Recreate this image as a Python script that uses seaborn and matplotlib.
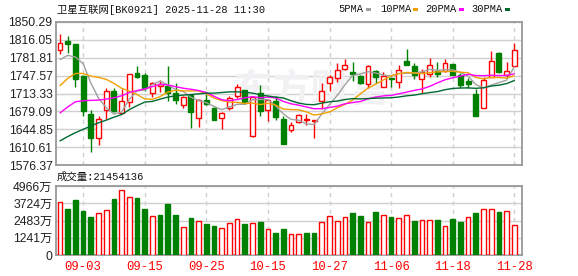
import numpy as np
import pandas as pd
import matplotlib
matplotlib.use("Agg")
import matplotlib.pyplot as plt
from matplotlib.patches import Rectangle
import seaborn as sns

# ---------------- data ----------------
dates = ["08-29", "09-01", "09-02", "09-03", "09-04", "09-05", "09-08", "09-09", "09-10", "09-11",
         "09-12", "09-15", "09-16", "09-17", "09-18", "09-19", "09-22", "09-23", "09-24", "09-25",
         "09-26", "09-29", "09-30", "10-09", "10-10", "10-13", "10-14", "10-15", "10-16", "10-17",
         "10-20", "10-21", "10-22", "10-23", "10-24", "10-27", "10-28", "10-29", "10-30", "10-31",
         "11-03", "11-04", "11-05", "11-06", "11-07", "11-10", "11-11", "11-12", "11-13", "11-14",
         "11-17", "11-18", "11-19", "11-20", "11-21", "11-24", "11-25", "11-26", "11-27", "11-28"]

opens = [1797.1, 1814.7, 1807.2, 1747.3, 1674.9, 1628.2, 1681.8, 1717.7, 1676.7, 1696.9,
         1753.0, 1748.6, 1715.2, 1727.5, 1727.8, 1715.2, 1691.2, 1711.4, 1666.0, 1700.1,
         1686.2, 1666.0, 1684.9, 1708.9, 1719.6, 1631.4, 1715.2, 1681.1, 1698.2, 1665.4,
         1642.7, 1658.5, 1663.5, 1660.4, 1698.2, 1732.8, 1742.3, 1761.2, 1754.2, 1746.7,
         1731.6, 1756.1, 1726.5, 1742.3, 1734.7, 1775.0, 1765.6, 1740.4, 1750.5, 1756.8,
         1756.8, 1770.6, 1747.9, 1737.2, 1712.7, 1685.6, 1744.1, 1790.1, 1747.9, 1766.9]
highs = [1827.3, 1824.2, 1808.0, 1748.0, 1681.1, 1669.8, 1723.4, 1723.4, 1721.5, 1750.5,
         1765.6, 1751.7, 1735.3, 1738.5, 1765.6, 1734.0, 1708.9, 1712.7, 1702.6, 1712.7,
         1687.5, 1677.4, 1707.6, 1730.9, 1720.2, 1708.9, 1729.0, 1702.6, 1708.9, 1671.1,
         1658.5, 1674.2, 1674.2, 1662.3, 1734.1, 1748.6, 1771.9, 1778.8, 1774.4, 1748.6,
         1767.5, 1758.0, 1753.6, 1744.1, 1767.5, 1797.7, 1771.9, 1761.2, 1782.0, 1773.1,
         1778.8, 1770.6, 1751.7, 1743.5, 1722.1, 1745.4, 1795.2, 1792.0, 1774.4, 1810.3]
lows = [1789.5, 1790.8, 1726.5, 1671.1, 1601.8, 1614.4, 1665.4, 1677.0, 1675.5, 1686.8,
        1742.3, 1718.3, 1706.3, 1717.1, 1698.2, 1693.8, 1685.6, 1647.1, 1649.6, 1691.9,
        1663.5, 1645.9, 1682.4, 1703.8, 1693.8, 1630.1, 1671.1, 1660.4, 1662.3, 1616.9,
        1639.6, 1657.2, 1653.4, 1628.9, 1683.7, 1718.3, 1736.0, 1758.0, 1737.9, 1731.0,
        1723.4, 1734.1, 1725.3, 1726.5, 1723.4, 1767.5, 1741.7, 1715.2, 1745.4, 1744.2,
        1753.6, 1748.6, 1723.4, 1723.4, 1669.8, 1685.6, 1744.1, 1751.7, 1745.4, 1766.9]
closes = [1810.3, 1807.8, 1741.7, 1679.3, 1628.2, 1664.8, 1717.7, 1679.3, 1699.4, 1749.8,
          1745.4, 1724.6, 1732.8, 1731.5, 1715.2, 1700.1, 1706.3, 1677.4, 1701.3, 1693.8,
          1663.5, 1676.1, 1703.8, 1725.2, 1695.0, 1706.3, 1679.3, 1701.3, 1667.9, 1616.9,
          1653.4, 1671.7, 1665.4, 1662.3, 1718.3, 1744.1, 1758.0, 1767.5, 1750.5, 1734.1,
          1765.6, 1745.4, 1746.7, 1741.7, 1759.3, 1767.5, 1748.6, 1754.9, 1767.5, 1750.5,
          1772.5, 1748.6, 1729.7, 1732.2, 1669.8, 1739.1, 1776.3, 1753.6, 1755.5, 1797.1]
# volume in 万 (10k shares)
volumes = [3794, 3305, 3966, 3158, 2717, 2987, 3207, 4039, 4676, 4162,
           4113, 3305, 2840, 2864, 3672, 2864, 2032, 2644, 2424, 2203,
           2056, 1958, 2326, 2619, 2203, 2277, 2375, 1885, 1616, 1836,
           1518, 1518, 1616, 1616, 2399, 2815, 2472, 2766, 3011, 2791,
           2399, 3060, 2913, 2717, 2693, 2913, 2424, 2546, 2546, 2497,
           2105, 2570, 2350, 2766, 3011, 3280, 3280, 3084, 3133, 2145]

# moving-average values before a full window is available
ma5_head = [1778.2, 1786.4, 1783.2, 1770.6]
ma10_head = [1728.4, 1742.3, 1751.7, 1751.7, 1746.7, 1744.2, 1740.4, 1732.8, 1723.4]
ma20_head = [1676.1, 1687.5, 1697.5, 1699.4, 1700.1, 1700.7, 1702.6, 1705.1, 1708.9, 1715.2,
             1719.0, 1722.1, 1726.5, 1731.0, 1729.7, 1726.5, 1723.4, 1721.5, 1719.0]
ma30_head = [1622.6, 1630.8, 1638.3, 1644.6, 1650.9, 1657.2, 1662.3, 1667.9, 1673.0, 1682.4,
             1690.0, 1696.9, 1698.2, 1702.6, 1706.4, 1708.9, 1710.2, 1711.4, 1712.7, 1714.0,
             1714.0, 1715.2, 1716.5, 1716.5, 1716.0, 1714.0, 1711.0, 1708.5, 1706.5]

price_ticks = [1576.37, 1610.61, 1644.85, 1679.09, 1713.33, 1747.57, 1781.81, 1816.05, 1850.29]
vol_ticks = [0, 1241, 2483, 3724, 4966]
vol_tick_labels = ["0", "1241万", "2483万", "3724万", "4966万"]
date_tick_labels = ["09-03", "09-15", "09-25", "10-15", "10-27", "11-06", "11-18", "11-28"]

title_text = "卫星互联网[BK0921] 2025-11-28 11:30"
vol_title = "成交量:21454136"
ma_names = ["5PMA", "10PMA", "20PMA", "30PMA"]
ma_colors = ["#a0a0a0", "#f0a000", "#ff00ff", "#006a32"]

# ---------------- style ----------------
sns.set_style("white")
plt.rcParams["font.family"] = ["Liberation Sans", "Noto Sans CJK SC", "DejaVu Sans"]
MONO = ["Liberation Mono", "Noto Sans CJK SC", "DejaVu Sans"]
RED = "#ff0000"
GREEN = "#008000"
GRID = "#d0d0d0"
FRAME = "#999999"
TXT = "#222222"

df = pd.DataFrame({"date": dates, "open": opens, "high": highs, "low": lows,
                   "close": closes, "vol": volumes})
n = len(df)
df["i"] = np.arange(n)


def moving_average(win, head):
    vals = df["close"].rolling(win).mean().to_numpy()
    vals[:win - 1] = head
    return vals


mas = [moving_average(5, ma5_head), moving_average(10, ma10_head),
       moving_average(20, ma20_head), moving_average(30, ma30_head)]

W, H = 578, 276
fig = plt.figure(figsize=(W / 100, H / 100), dpi=100)
axp = fig.add_axes([56 / W, 1 - 165 / H, 466 / W, 143 / H])
axv = fig.add_axes([56 / W, 1 - 255 / H, 466 / W, 69 / H])

xmin, xmax = -0.52, 60.0
date_pos = [dates.index(d) for d in date_tick_labels]

# ---------------- price panel ----------------
up = df["close"] >= df["open"]
body_w = 0.64
for r, u in zip(df.itertuples(), up):
    col = RED if u else GREEN
    axp.vlines(r.i, r.low, r.high, color=col, lw=1.0, zorder=3)
    lo, hi = min(r.open, r.close), max(r.open, r.close)
    h = max(hi - lo, 0.6)
    axp.add_patch(Rectangle((r.i - body_w / 2, lo), body_w, h,
                            facecolor="white" if u else GREEN,
                            edgecolor=col, lw=1.0, zorder=4))

for vals, col in zip(mas, ma_colors):
    sns.lineplot(x=df["i"], y=vals, ax=axp, color=col, lw=1.0, legend=False, zorder=5)

axp.text(0.548, 0.52, "东方财富", transform=axp.transAxes, fontsize=28,
         color="#f1f1f4", ha="center", va="center", zorder=1,
         family=["Noto Sans CJK SC"], fontweight="bold")

axp.set_xlim(xmin, xmax)
axp.set_ylim(price_ticks[0], price_ticks[-1])
axp.set_yticks(price_ticks)
axp.set_yticklabels([f"{v:.2f}" for v in price_ticks])
axp.set_xticks(date_pos)
axp.set_xticklabels([])
axp.set_xlabel("")
axp.set_ylabel("")

# ---------------- volume panel ----------------
sns.barplot(x="i", y="vol", data=df, ax=axv, width=0.62, color=GREEN, saturation=1)
prev = df["close"].shift(1).fillna(df["open"])
vol_up = (df["close"] >= prev).to_numpy()
for p, u in zip(axv.patches, vol_up):
    if u:
        p.set_facecolor("white")
        p.set_edgecolor(RED)
    else:
        p.set_facecolor(GREEN)
        p.set_edgecolor(GREEN)
    p.set_linewidth(1.0)
    p.set_zorder(3)

axv.set_xlim(xmin, xmax)
axv.set_ylim(0, vol_ticks[-1])
axv.set_yticks(vol_ticks)
axv.set_yticklabels(vol_tick_labels)
axv.set_xticks(date_pos)
axv.set_xticklabels(date_tick_labels, color=RED, family=MONO, fontsize=7.6)
axv.set_xlabel("")
axv.set_ylabel("")

for ax in (axp, axv):
    ax.grid(axis="y", color=GRID, lw=1.0, zorder=0)
    ax.grid(axis="x", color=GRID, lw=1.0, linestyle=(0, (3, 3)), zorder=0)
    ax.set_axisbelow(True)
    for s in ax.spines.values():
        s.set_color(FRAME)
        s.set_linewidth(1.3)
        s.set_visible(True)
    ax.tick_params(axis="both", length=0, labelsize=8.8, labelcolor=TXT, pad=2.5)
axv.tick_params(axis="x", labelcolor=RED, pad=4)

# ---------------- texts ----------------
fig.text(57 / W, 1 - 9.5 / H, title_text, family=MONO, fontsize=7.5, color="#111111",
         ha="left", va="center")
fig.text(57 / W, 1 - 177 / H, vol_title, family=MONO, fontsize=7.5, color="#111111",
         ha="left", va="center")

leg_text_x = [338, 380, 425, 471.5]
leg_box_x = [366, 413, 459, 505]
for name, col, tx, bx in zip(ma_names, ma_colors, leg_text_x, leg_box_x):
    fig.text(tx / W, 1 - 9.5 / H, name, family=MONO, fontsize=7.5, color="#111111",
             ha="left", va="center")
    fig.add_artist(Rectangle((bx / W, 1 - 11 / H), 5 / W, 3.5 / H, transform=fig.transFigure,
                             facecolor=col, edgecolor="none"))

fig.savefig("out.png", dpi=100)
